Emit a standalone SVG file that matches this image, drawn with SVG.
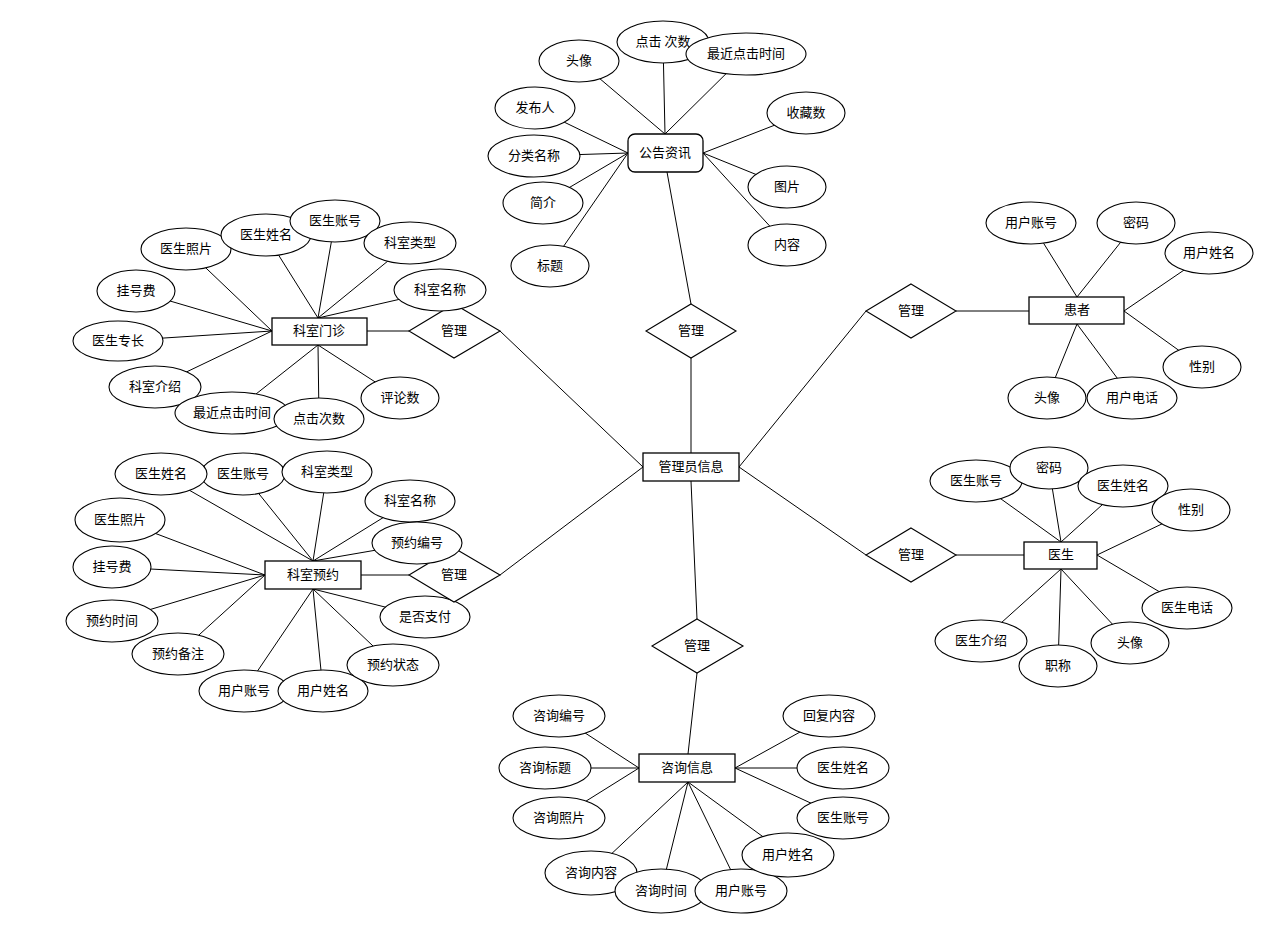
<svg xmlns="http://www.w3.org/2000/svg" width="1280" height="932" viewBox="0 0 1280 932">
<style>
.a{fill:#fff;stroke:#000;stroke-width:1.1}
.e{fill:#fff;stroke:#000;stroke-width:1.3}
.r{fill:#fff;stroke:#000;stroke-width:1.1}
.c line{stroke:#000;stroke-width:1}
text{font-family:"Noto Sans CJK SC","Liberation Sans",sans-serif;font-size:13px;text-anchor:middle;dominant-baseline:central;fill:#000;transform:translateY(-1.5px)}
</style>
<rect width="1280" height="932" fill="#fff"/>
<g id="connectors" class="c">
<line x1="691" y1="453" x2="691" y2="358"/>
<line x1="739" y1="467" x2="866" y2="311"/>
<line x1="739" y1="467" x2="866" y2="555"/>
<line x1="691" y1="481" x2="697" y2="619"/>
<line x1="643" y1="467" x2="500" y2="331"/>
<line x1="643" y1="467" x2="500" y2="575"/>
<line x1="691" y1="304" x2="667" y2="172"/>
<line x1="956" y1="311" x2="1029" y2="311"/>
<line x1="956" y1="555" x2="1024" y2="555"/>
<line x1="697" y1="673" x2="688" y2="754"/>
<line x1="367" y1="331" x2="409" y2="331"/>
<line x1="361" y1="575" x2="409" y2="575"/>
<line x1="665" y1="134" x2="579" y2="61"/>
<line x1="665" y1="134" x2="663" y2="42"/>
<line x1="665" y1="134" x2="746" y2="54"/>
<line x1="628" y1="153" x2="535" y2="108"/>
<line x1="628" y1="153" x2="534" y2="156"/>
<line x1="628" y1="153" x2="543" y2="203"/>
<line x1="628" y1="153" x2="550" y2="266"/>
<line x1="703" y1="153" x2="806" y2="113"/>
<line x1="703" y1="153" x2="787" y2="187"/>
<line x1="703" y1="153" x2="787" y2="245"/>
<line x1="272" y1="331" x2="186" y2="249"/>
<line x1="272" y1="331" x2="136" y2="291"/>
<line x1="272" y1="331" x2="118" y2="341"/>
<line x1="272" y1="331" x2="155" y2="387"/>
<line x1="318" y1="318" x2="266" y2="235"/>
<line x1="318" y1="318" x2="335" y2="221"/>
<line x1="318" y1="318" x2="410" y2="243"/>
<line x1="318" y1="318" x2="440" y2="290"/>
<line x1="318" y1="345" x2="232" y2="413"/>
<line x1="318" y1="345" x2="319" y2="419"/>
<line x1="318" y1="345" x2="400" y2="398"/>
<line x1="313" y1="561" x2="161" y2="474"/>
<line x1="313" y1="561" x2="243" y2="474"/>
<line x1="313" y1="561" x2="327" y2="472"/>
<line x1="313" y1="561" x2="410" y2="501"/>
<line x1="313" y1="561" x2="417" y2="543"/>
<line x1="265" y1="575" x2="120" y2="520"/>
<line x1="265" y1="575" x2="112" y2="567"/>
<line x1="265" y1="575" x2="112" y2="621"/>
<line x1="265" y1="575" x2="178" y2="654"/>
<line x1="313" y1="589" x2="244" y2="691"/>
<line x1="313" y1="589" x2="323" y2="691"/>
<line x1="313" y1="589" x2="393" y2="665"/>
<line x1="313" y1="589" x2="425" y2="617"/>
<line x1="1077" y1="297" x2="1031" y2="223"/>
<line x1="1077" y1="297" x2="1136" y2="223"/>
<line x1="1124" y1="311" x2="1209" y2="253"/>
<line x1="1124" y1="311" x2="1202" y2="367"/>
<line x1="1077" y1="324" x2="1047" y2="398"/>
<line x1="1077" y1="324" x2="1132" y2="398"/>
<line x1="1061" y1="542" x2="976" y2="481"/>
<line x1="1061" y1="542" x2="1049" y2="468"/>
<line x1="1061" y1="542" x2="1123" y2="486"/>
<line x1="1097" y1="555" x2="1191" y2="510"/>
<line x1="1097" y1="555" x2="1187" y2="608"/>
<line x1="1061" y1="569" x2="1130" y2="643"/>
<line x1="1061" y1="569" x2="1058" y2="666"/>
<line x1="1061" y1="569" x2="981" y2="641"/>
<line x1="639" y1="768" x2="559" y2="716"/>
<line x1="639" y1="768" x2="545" y2="768"/>
<line x1="639" y1="768" x2="559" y2="818"/>
<line x1="688" y1="782" x2="591" y2="873"/>
<line x1="688" y1="782" x2="661" y2="891"/>
<line x1="688" y1="782" x2="741" y2="891"/>
<line x1="688" y1="782" x2="788" y2="855"/>
<line x1="735" y1="768" x2="829" y2="716"/>
<line x1="735" y1="768" x2="843" y2="768"/>
<line x1="735" y1="768" x2="843" y2="818"/>
</g>

<g id="admin"><rect class="e" x="643" y="453" width="96" height="28"/><text x="691" y="467">管理员信息</text></g>

<g id="rel-news"><polygon class="r" points="691,304 736,331 691,358 646,331"/><text x="691" y="331">管理</text></g>
<g id="rel-patient"><polygon class="r" points="911,284 956,311 911,338 866,311"/><text x="911" y="311">管理</text></g>
<g id="rel-doctor"><polygon class="r" points="911,528 956,555 911,582 866,555"/><text x="911" y="555">管理</text></g>
<g id="rel-consult"><polygon class="r" points="697,619 743,646 697,673 652,646"/><text x="697" y="646">管理</text></g>
<g id="rel-clinic"><polygon class="r" points="454,304 500,331 454,358 409,331"/><text x="454" y="331">管理</text></g>

<g id="news"><rect class="e" x="628" y="134" width="75" height="38" rx="7"/><text x="665" y="153">公告资讯</text></g>
<g id="news-avatar"><ellipse class="a" cx="579" cy="61" rx="40" ry="21"/><text x="579" y="61">头像</text></g>
<g id="news-clicks"><ellipse class="a" cx="663" cy="42" rx="46" ry="21"/><text x="663" y="42">点击 次数</text></g>
<g id="news-lastclick"><ellipse class="a" cx="746" cy="54" rx="60" ry="21"/><text x="746" y="54">最近点击时间</text></g>
<g id="news-publisher"><ellipse class="a" cx="535" cy="108" rx="40" ry="21"/><text x="535" y="108">发布人</text></g>
<g id="news-category"><ellipse class="a" cx="534" cy="156" rx="46" ry="21"/><text x="534" y="156">分类名称</text></g>
<g id="news-intro"><ellipse class="a" cx="543" cy="203" rx="40" ry="21"/><text x="543" y="203">简介</text></g>
<g id="news-title"><ellipse class="a" cx="550" cy="266" rx="39" ry="21"/><text x="550" y="266">标题</text></g>
<g id="news-fav"><ellipse class="a" cx="806" cy="113" rx="39" ry="21"/><text x="806" y="113">收藏数</text></g>
<g id="news-image"><ellipse class="a" cx="787" cy="187" rx="39" ry="21"/><text x="787" y="187">图片</text></g>
<g id="news-content"><ellipse class="a" cx="787" cy="245" rx="39" ry="21"/><text x="787" y="245">内容</text></g>

<g id="clinic"><rect class="e" x="272" y="318" width="95" height="27"/><text x="319" y="331">科室门诊</text></g>
<g id="clinic-photo"><ellipse class="a" cx="186" cy="249" rx="45" ry="21"/><text x="186" y="249">医生照片</text></g>
<g id="clinic-docname"><ellipse class="a" cx="266" cy="235" rx="45" ry="21"/><text x="266" y="235">医生姓名</text></g>
<g id="clinic-docacct"><ellipse class="a" cx="335" cy="221" rx="45" ry="21"/><text x="335" y="221">医生账号</text></g>
<g id="clinic-type"><ellipse class="a" cx="410" cy="243" rx="46" ry="21"/><text x="410" y="243">科室类型</text></g>
<g id="clinic-name"><ellipse class="a" cx="440" cy="290" rx="46" ry="21"/><text x="440" y="290">科室名称</text></g>
<g id="clinic-fee"><ellipse class="a" cx="136" cy="291" rx="39" ry="21"/><text x="136" y="291">挂号费</text></g>
<g id="clinic-specialty"><ellipse class="a" cx="118" cy="341" rx="45" ry="20"/><text x="118" y="341">医生专长</text></g>
<g id="clinic-intro"><ellipse class="a" cx="155" cy="387" rx="46" ry="21"/><text x="155" y="387">科室介绍</text></g>
<g id="clinic-lastclick"><ellipse class="a" cx="232" cy="413" rx="57" ry="21"/><text x="232" y="413">最近点击时间</text></g>
<g id="clinic-clicks"><ellipse class="a" cx="319" cy="419" rx="45" ry="21"/><text x="319" y="419">点击次数</text></g>
<g id="clinic-comments"><ellipse class="a" cx="400" cy="398" rx="39" ry="21"/><text x="400" y="398">评论数</text></g>

<g id="booking"><rect class="e" x="265" y="561" width="96" height="28"/><text x="313" y="575">科室预约</text></g>
<g id="booking-docacct"><ellipse class="a" cx="243" cy="474" rx="42" ry="21"/><text x="243" y="474">医生账号</text></g>
<g id="booking-docname"><ellipse class="a" cx="161" cy="474" rx="46" ry="21"/><text x="161" y="474">医生姓名</text></g>
<g id="booking-type"><ellipse class="a" cx="327" cy="472" rx="45" ry="21"/><text x="327" y="472">科室类型</text></g>
<g id="booking-deptname"><ellipse class="a" cx="410" cy="501" rx="45" ry="21"/><text x="410" y="501">科室名称</text></g>
<g id="booking-paid"><ellipse class="a" cx="425" cy="617" rx="45" ry="21"/><text x="425" y="617">是否支付</text></g>
<g id="rel-booking"><polygon class="r" points="454,548 500,575 454,602 409,575"/><text x="454" y="575">管理</text></g>
<g id="booking-no"><ellipse class="a" cx="417" cy="543" rx="45" ry="21"/><text x="417" y="543">预约编号</text></g>
<g id="booking-photo"><ellipse class="a" cx="120" cy="520" rx="45" ry="22"/><text x="120" y="520">医生照片</text></g>
<g id="booking-fee"><ellipse class="a" cx="112" cy="567" rx="39" ry="21"/><text x="112" y="567">挂号费</text></g>
<g id="booking-time"><ellipse class="a" cx="112" cy="621" rx="46" ry="21"/><text x="112" y="621">预约时间</text></g>
<g id="booking-note"><ellipse class="a" cx="178" cy="654" rx="46" ry="21"/><text x="178" y="654">预约备注</text></g>
<g id="booking-useracct"><ellipse class="a" cx="244" cy="691" rx="45" ry="21"/><text x="244" y="691">用户账号</text></g>
<g id="booking-username"><ellipse class="a" cx="323" cy="691" rx="45" ry="21"/><text x="323" y="691">用户姓名</text></g>
<g id="booking-status"><ellipse class="a" cx="393" cy="665" rx="46" ry="21"/><text x="393" y="665">预约状态</text></g>

<g id="patient"><rect class="e" x="1029" y="297" width="95" height="27"/><text x="1077" y="310">患者</text></g>
<g id="patient-acct"><ellipse class="a" cx="1031" cy="223" rx="45" ry="21"/><text x="1031" y="223">用户账号</text></g>
<g id="patient-pwd"><ellipse class="a" cx="1136" cy="223" rx="39" ry="21"/><text x="1136" y="223">密码</text></g>
<g id="patient-name"><ellipse class="a" cx="1209" cy="253" rx="44" ry="21"/><text x="1209" y="253">用户姓名</text></g>
<g id="patient-gender"><ellipse class="a" cx="1202" cy="367" rx="39" ry="21"/><text x="1202" y="367">性别</text></g>
<g id="patient-avatar"><ellipse class="a" cx="1047" cy="398" rx="39" ry="21"/><text x="1047" y="398">头像</text></g>
<g id="patient-phone"><ellipse class="a" cx="1132" cy="398" rx="45" ry="21"/><text x="1132" y="398">用户电话</text></g>

<g id="doctor"><rect class="e" x="1024" y="542" width="73" height="27"/><text x="1061" y="555">医生</text></g>
<g id="doctor-acct"><ellipse class="a" cx="976" cy="481" rx="46" ry="21"/><text x="976" y="481">医生账号</text></g>
<g id="doctor-pwd"><ellipse class="a" cx="1049" cy="468" rx="39" ry="21"/><text x="1049" y="468">密码</text></g>
<g id="doctor-name"><ellipse class="a" cx="1123" cy="486" rx="45" ry="21"/><text x="1123" y="486">医生姓名</text></g>
<g id="doctor-gender"><ellipse class="a" cx="1191" cy="510" rx="39" ry="21"/><text x="1191" y="510">性别</text></g>
<g id="doctor-phone"><ellipse class="a" cx="1187" cy="608" rx="45" ry="21"/><text x="1187" y="608">医生电话</text></g>
<g id="doctor-avatar"><ellipse class="a" cx="1130" cy="643" rx="39" ry="21"/><text x="1130" y="643">头像</text></g>
<g id="doctor-title"><ellipse class="a" cx="1058" cy="666" rx="39" ry="21"/><text x="1058" y="666">职称</text></g>
<g id="doctor-intro"><ellipse class="a" cx="981" cy="641" rx="46" ry="21"/><text x="981" y="641">医生介绍</text></g>

<g id="consult"><rect class="e" x="639" y="754" width="96" height="28"/><text x="687" y="768">咨询信息</text></g>
<g id="consult-no"><ellipse class="a" cx="559" cy="716" rx="46" ry="21"/><text x="559" y="716">咨询编号</text></g>
<g id="consult-title"><ellipse class="a" cx="545" cy="768" rx="46" ry="21"/><text x="545" y="768">咨询标题</text></g>
<g id="consult-photo"><ellipse class="a" cx="559" cy="818" rx="46" ry="21"/><text x="559" y="818">咨询照片</text></g>
<g id="consult-content"><ellipse class="a" cx="591" cy="873" rx="46" ry="22"/><text x="591" y="873">咨询内容</text></g>
<g id="consult-time"><ellipse class="a" cx="661" cy="891" rx="46" ry="22"/><text x="661" y="891">咨询时间</text></g>
<g id="consult-useracct"><ellipse class="a" cx="741" cy="891" rx="46" ry="22"/><text x="741" y="891">用户账号</text></g>
<g id="consult-username"><ellipse class="a" cx="788" cy="855" rx="46" ry="22"/><text x="788" y="855">用户姓名</text></g>
<g id="consult-docacct"><ellipse class="a" cx="843" cy="818" rx="46" ry="21"/><text x="843" y="818">医生账号</text></g>
<g id="consult-docname"><ellipse class="a" cx="843" cy="768" rx="46" ry="21"/><text x="843" y="768">医生姓名</text></g>
<g id="consult-reply"><ellipse class="a" cx="829" cy="716" rx="46" ry="21"/><text x="829" y="716">回复内容</text></g>
</svg>
